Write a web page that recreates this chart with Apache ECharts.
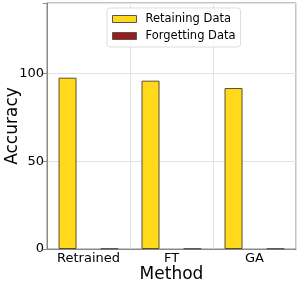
<!DOCTYPE html>
<html><head><meta charset="utf-8">
<script src="https://cdn.jsdelivr.net/npm/echarts@6/dist/echarts.min.js"></script>
<style>html,body{margin:0;padding:0;background:#fff}#c{width:299px;height:286px}</style>
</head><body><div id="c"></div>
<script>
const categories = ['Retrained', 'FT', 'GA'];
const retaining = [97.5, 95.8, 91.6];
const forgetting = [0.3, 0.3, 0.3];
const yTicks = [0, 50, 100];

const font = 'DejaVu Sans';
const chart = echarts.init(document.getElementById('c'), null, {renderer: 'canvas'});
chart.setOption({
  animation: false,
  textStyle: {fontFamily: font},
  grid: {left: 47, right: 3, top: 3, bottom: 37, show: true, borderColor: '#888', borderWidth: 1,
         containLabel: false, outerBoundsMode: 'none'},
  legend: {
    data: ['Retaining Data', 'Forgetting Data'],
    orient: 'vertical', left: 107, top: 8,
    icon: 'rect',
    itemWidth: 24, itemHeight: 7, itemGap: 5,
    backgroundColor: 'rgba(255,255,255,0.85)', borderColor: '#ddd', borderWidth: 1, borderRadius: 3,
    padding: [5, 5, 5, 5],
    textStyle: {fontFamily: font, fontSize: 11.5, color: '#000', padding: [0, 0, 0, 4]},
    itemStyle: {borderColor: '#555', borderWidth: 1}
  },
  xAxis: {
    type: 'category', data: categories,
    name: 'Method', nameLocation: 'middle', nameGap: 17, nameMoveOverlap: false,
    nameTextStyle: {fontFamily: font, fontSize: 17, color: '#000', verticalAlign: 'top'},
    axisLine: {show: true, lineStyle: {color: '#888'}},
    axisTick: {show: false},
    axisLabel: {fontFamily: font, fontSize: 13, color: '#000', margin: 3, interval: 0, hideOverlap: false},
    splitLine: {show: true, interval: 0, lineStyle: {color: '#e3e3e3'}}
  },
  yAxis: {
    type: 'value', min: 0, max: 140, interval: 50,
    name: 'Accuracy', nameLocation: 'middle', nameGap: 26, nameMoveOverlap: false,
    nameTextStyle: {fontFamily: font, fontSize: 17, color: '#000'},
    axisLine: {show: true, lineStyle: {color: '#888'}},
    axisTick: {show: true, length: 4, lineStyle: {color: '#888'}},
    axisLabel: {fontFamily: font, fontSize: 13, color: '#000', margin: 3,
      formatter: v => yTicks.includes(v) ? String(v) : ''},
    splitLine: {show: true, lineStyle: {color: '#e3e3e3'}}
  },
  series: [
    {name: 'Retaining Data', type: 'bar', data: retaining, barWidth: 18, barGap: '133%',
     itemStyle: {color: '#FFD91A', borderColor: '#5a5030', borderWidth: 1}},
    {name: 'Forgetting Data', type: 'bar', data: forgetting, barWidth: 18,
     itemStyle: {color: '#9B1C1C', borderColor: '#555', borderWidth: 1}}
  ]
});
</script></body></html>
